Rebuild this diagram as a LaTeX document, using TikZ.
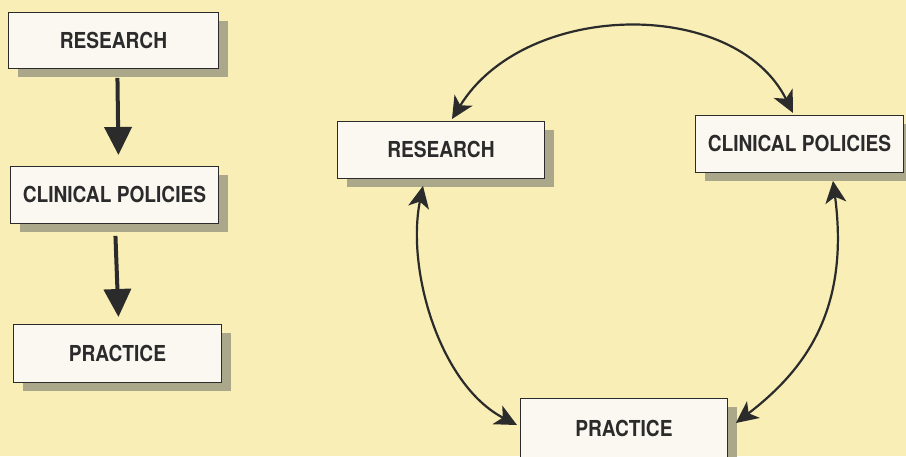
\documentclass[tikz,border=0pt]{standalone}
\usepackage{fontspec}
\setmainfont[FakeStretch=0.87]{TeX Gyre Heros}
\usetikzlibrary{arrows.meta,shadows}
\definecolor{bgcol}{HTML}{F8EEB6}
\definecolor{boxcol}{HTML}{FAF8F1}
\definecolor{shadcol}{HTML}{ABA78A}
\definecolor{inkcol}{HTML}{2B2B2B}
\tikzset{
  stagebox/.style={draw=inkcol, line width=0.9pt, fill=boxcol, inner sep=0pt,
    anchor=north west, text=inkcol,
    font=\fontsize{22}{24}\selectfont\bfseries,
    drop shadow={shadow xshift=10pt, shadow yshift=-9pt, fill=shadcol, opacity=1}},
  bigarrow/.style={draw=inkcol, line width=4pt, -{Triangle[length=28pt,width=27pt]}},
  arcarrow/.style={draw=inkcol, line width=2.2pt,
    {Stealth[length=22pt,width=21pt,inset=6pt]}-{Stealth[length=22pt,width=21pt,inset=6pt]}}
}
\begin{document}
\begin{tikzpicture}[x=1pt,y=-1pt]
\fill[bgcol] (0,0) rectangle (906,456);
\useasboundingbox (0,0) rectangle (906,456);
\clip (0,0) rectangle (906,456);
% left linear model
\node[stagebox, minimum width=210pt, minimum height=56pt] (r1) at (8,12) {RESEARCH};
\node[stagebox, minimum width=208pt, minimum height=57pt] (c1) at (10,166) {CLINICAL POLICIES};
\node[stagebox, minimum width=208pt, minimum height=58pt] (p1) at (13,324) {PRACTICE};
\draw[bigarrow] ([xshift=4pt,yshift=-9pt]r1.south) -- ([xshift=4pt,yshift=11pt]c1.north);
\draw[bigarrow] ([xshift=1pt,yshift=-12pt]c1.south) -- ([xshift=1pt,yshift=7pt]p1.north);
% right cyclic model
\node[stagebox, minimum width=207pt, minimum height=57pt] (r2) at (337,121) {RESEARCH};
\node[stagebox, minimum width=208pt, minimum height=57pt] (c2) at (695,115) {CLINICAL POLICIES};
\node[stagebox, minimum width=207pt, minimum height=60pt] (p2) at (520,398) {PRACTICE};
\draw[arcarrow] ([xshift=115pt,yshift=2pt]r2.north west) .. controls (525,0) and (735,-3) .. ([xshift=98pt,yshift=2pt]c2.north west);
\draw[arcarrow] ([xshift=86pt,yshift=-7pt]r2.south west) .. controls (406,270) and (440,385) .. ([xshift=-3pt,yshift=-27pt]p2.north west);
\draw[arcarrow] ([xshift=138pt,yshift=-8pt]c2.south west) .. controls (850,310) and (805,370) .. ([xshift=8pt,yshift=-25pt]p2.north east);
\end{tikzpicture}
\end{document}
